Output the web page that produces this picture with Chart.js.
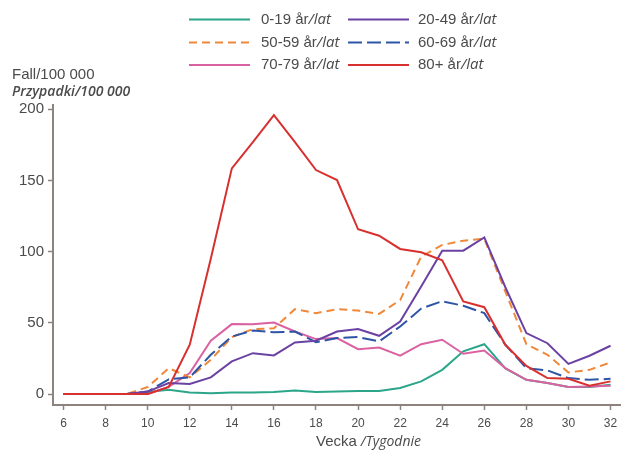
<!DOCTYPE html>
<html>
<head>
<meta charset="utf-8">
<script src="https://cdn.jsdelivr.net/npm/chart.js@4/dist/chart.umd.min.js"></script>
<style>
  html, body { margin: 0; padding: 0; background: #ffffff; }
  #wrap { width: 632px; height: 452px; position: relative; }
</style>
</head>
<body>
<div id="wrap"><canvas id="c" width="632" height="452"></canvas></div>
<script>
// ---- Data ----
const weeks = [6,7,8,9,10,11,12,13,14,15,16,17,18,19,20,21,22,23,24,25,26,27,28,29,30,31,32];
const xTickValues = [6,8,10,12,14,16,18,20,22,24,26,28,30,32];
const yTickValues = [0,50,100,150,200];

const seriesLabels = ['0-19 år/lat', '20-49 år/lat', '50-59 år/lat', '60-69 år/lat', '70-79 år/lat', '80+ år/lat'];

const age0_19  = [0,0,0,0,1.4,3,1.1,0.5,1,1,1.4,2.5,1.4,1.8,2.2,2.2,4.2,8.9,17,30,35,18,10,7.7,5,5,6.5];
const age20_49 = [0,0,0,0,1.7,7.7,7,11.7,22.9,28.7,27.1,36.2,37.4,43.9,45.6,40.9,50.9,75.5,100.7,100.7,110,75,42.8,35.7,21.2,26.9,33.9];
const age50_59 = [0,0,0,0,4.9,18.2,11.7,24,40,45.6,46.2,59.6,56.8,59.6,58.6,56.3,66,96.5,104.7,107.7,109,72,35,27.6,15.2,17,22.2];
const age60_69 = [0,0,0,0,1.7,10.3,11.7,27.6,40.4,44.6,43.4,43.9,36.4,39.3,40,36.9,47.4,60,65.2,62,56.8,34.6,18.2,16.6,11.2,10,10.7];
const age70_79 = [0,0,0,0,0,5,14.7,37.4,49.1,49,50.2,43.9,38.6,39.3,31.5,32.7,26.9,35,38.1,28.3,30.6,18.2,10,7.7,4.9,5.3,5.8];
const age80p   = [0,0,0,0,0,5,34.6,95,158.5,177,195.9,177,157.3,150.3,115.7,111.2,101.9,99.6,94,65,61,34.6,19.8,11.2,10.7,5.8,8.9];

const seriesValues = [age0_19, age20_49, age50_59, age60_69, age70_79, age80p];
const seriesColors = ['#2ba68a', '#6b42a3', '#f0883a', '#2e54a6', '#da62a2', '#d8302e'];
const seriesDash   = [[], [], [8,5], [14,5], [], []];
const seriesOrder  = [5, 1, 3, 2, 4, 0];

const yTitle1 = 'Fall/100 000';
const yTitle2 = 'Przypadki/100 000';
const xTitle1 = 'Vecka';
const xTitle2 = '/Tygodnie';

const textColor = '#4b4b4b';
const axisColor = '#8c837f';
const SANS = 'Liberation Sans, Arial, sans-serif';
const ITAL = '"Open Sans", Liberation Sans, sans-serif';

const datasets = seriesValues.map((vals, i) => ({
  label: seriesLabels[i],
  data: weeks.map((w, j) => ({ x: w, y: vals[j] })),
  borderColor: seriesColors[i],
  backgroundColor: seriesColors[i],
  borderDash: seriesDash[i],
  borderWidth: 2,
  pointRadius: 0,
  tension: 0,
  fill: false,
  order: seriesOrder[i]
}));

function drawMixed(ctx, x, y, normal, italic, size) {
  ctx.textBaseline = 'middle';
  ctx.textAlign = 'left';
  ctx.font = size + 'px ' + SANS;
  ctx.fillText(normal, x, y);
  const w = ctx.measureText(normal).width;
  ctx.font = 'italic ' + size + 'px ' + ITAL;
  ctx.fillText(italic, x + w, y);
}

const customText = {
  id: 'customText',
  afterDraw(chart) {
    const ctx = chart.ctx;
    ctx.save();
    ctx.fillStyle = textColor;
    // legend
    const cols = [{ l1: 189, l2: 250, tx: 261 }, { l1: 348, l2: 409, tx: 418 }];
    const rows = [19.5, 42.5, 65];
    chart.data.datasets.forEach((ds, i) => {
      const c = cols[i % 2], y = rows[Math.floor(i / 2)];
      ctx.save();
      ctx.strokeStyle = ds.borderColor;
      ctx.lineWidth = 2;
      ctx.setLineDash(ds.borderDash || []);
      ctx.beginPath();
      ctx.moveTo(c.l1, y);
      ctx.lineTo(c.l2, y);
      ctx.stroke();
      ctx.restore();
      const idx = ds.label.indexOf('/');
      ctx.fillStyle = textColor;
      drawMixed(ctx, c.tx, y, ds.label.slice(0, idx), ds.label.slice(idx), 15);
    });
    // y title
    ctx.fillStyle = textColor;
    ctx.textBaseline = 'middle';
    ctx.textAlign = 'left';
    ctx.font = '15px ' + SANS;
    ctx.fillText(yTitle1, 12, 75);
    ctx.font = 'italic 600 14px ' + ITAL;
    ctx.fillText(yTitle2, 12, 92);
    // x title
    ctx.font = '15px ' + SANS;
    ctx.fillText(xTitle1, 316, 442);
    const w = ctx.measureText(xTitle1).width;
    ctx.font = 'italic 14px ' + ITAL;
    ctx.fillText(xTitle2, 316 + w + 4, 442);
    ctx.restore();
  }
};

new Chart(document.getElementById('c'), {
  type: 'line',
  data: { datasets },
  options: {
    responsive: false,
    animation: false,
    devicePixelRatio: 1,
    layout: { padding: { left: 0, top: 105, right: 12, bottom: 0 } },
    plugins: { legend: { display: false }, tooltip: { enabled: false } },
    scales: {
      x: {
        type: 'linear',
        min: 5.5,
        max: 32.45,
        afterBuildTicks: s => { s.ticks = xTickValues.map(v => ({ value: v })); },
        afterFit: s => { s.height = 47; },
        border: { display: true, color: axisColor, width: 2 },
        grid: { display: true, drawOnChartArea: false, drawTicks: true, tickLength: 5, tickColor: axisColor, tickWidth: 1.5 },
        ticks: { color: textColor, font: { family: SANS, size: 12 }, padding: 6, maxRotation: 0, autoSkip: false }
      },
      y: {
        type: 'linear',
        min: -7.7,
        max: 203,
        afterBuildTicks: s => { s.ticks = yTickValues.map(v => ({ value: v })); },
        afterFit: s => { s.width = 53; },
        border: { display: true, color: axisColor, width: 2 },
        grid: { display: true, drawOnChartArea: false, drawTicks: true, tickLength: 5, tickColor: axisColor, tickWidth: 1.5 },
        ticks: { color: textColor, font: { family: SANS, size: 15 }, padding: 4 }
      }
    }
  },
  plugins: [customText]
});
</script>
</body>
</html>
